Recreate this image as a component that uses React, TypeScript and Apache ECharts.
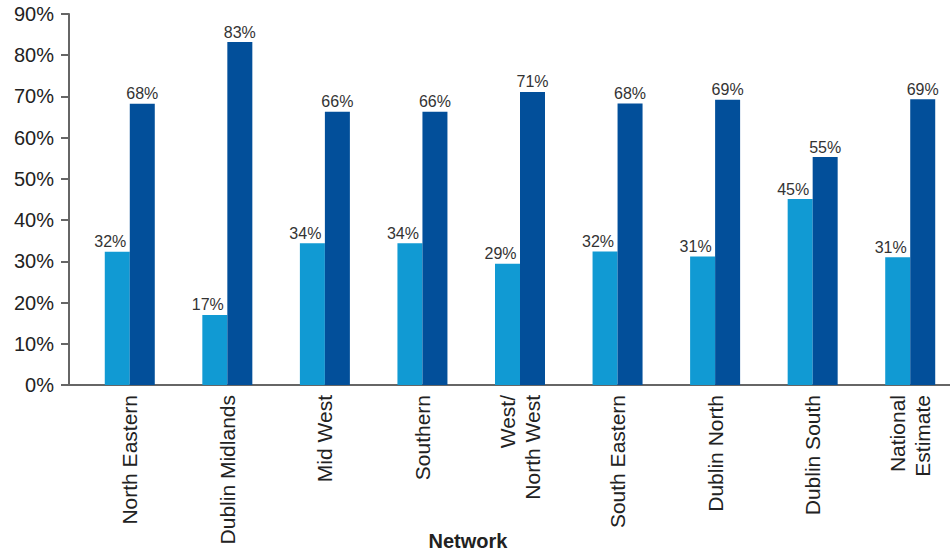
import React, { useEffect, useRef } from "react";
import * as echarts from "echarts";

const categories = [
  "North Eastern",
  "Dublin Midlands",
  "Mid West",
  "Southern",
  "West/\nNorth West",
  "South Eastern",
  "Dublin North",
  "Dublin South",
  "National\nEstimate",
];
const seriesLight = [32.3, 17.0, 34.4, 34.4, 29.4, 32.4, 31.2, 45.1, 31.0];
const seriesDark = [68.2, 83.2, 66.3, 66.3, 71.1, 68.3, 69.2, 55.3, 69.3];
const yTicks = [0, 10, 20, 30, 40, 50, 60, 70, 80, 90];
const xTitle = "Network";

const FONT = "Liberation Sans, Arial, sans-serif";

export default function App() {
  const ref = useRef<HTMLDivElement>(null);
  useEffect(() => {
    if (!ref.current) return;
    const chart = echarts.init(ref.current, undefined, { renderer: "svg" });
    const label = {
      show: true,
      position: "top",
      distance: 2,
      color: "#333",
      fontSize: 16,
      fontFamily: FONT,
      formatter: (p: any) => Math.round(p.value) + "%",
    };
    chart.setOption({
      animation: false,
      backgroundColor: "#fff",
      grid: { left: 81, right: 11, top: 14, bottom: 168, containLabel: false },
      xAxis: {
        type: "category",
        data: categories,
        axisLine: { show: true, lineStyle: { color: "#666", width: 2 } },
        axisTick: { show: false },
        axisLabel: {
          rotate: 90,
          color: "#222",
          fontSize: 21,
          fontFamily: FONT,
          lineHeight: 25,
          margin: 10,
          interval: 0,
        },
      },
      yAxis: {
        type: "value",
        min: yTicks[0],
        max: yTicks[yTicks.length - 1],
        interval: 10,
        offset: 12,
        splitLine: { show: false },
        axisLine: { show: true, lineStyle: { color: "#666", width: 2 } },
        axisTick: { show: true, length: 8, lineStyle: { color: "#666", width: 2 } },
        axisLabel: {
          color: "#222",
          fontSize: 20,
          fontFamily: FONT,
          margin: 15,
          formatter: (v: number) => v + "%",
        },
      },
      graphic: [
        {
          type: "line",
          shape: { x1: 68, y1: 385, x2: 82, y2: 385 },
          style: { stroke: "#666", lineWidth: 2 },
        },
        {
          type: "text",
          x: 468,
          y: 541,
          style: {
            text: xTitle,
            font: "bold 20px " + FONT,
            fill: "#222",
            textAlign: "center",
            textVerticalAlign: "middle",
          },
        },
      ],
      series: [
        {
          type: "bar",
          data: seriesLight,
          barWidth: 25,
          barGap: "0%",
          itemStyle: { color: "#119ad3" },
          label: { ...label, offset: [-7, 0] },
        },
        {
          type: "bar",
          data: seriesDark,
          barWidth: 25,
          barGap: "0%",
          itemStyle: { color: "#024f9a" },
          label,
        },
      ],
    });
    return () => chart.dispose();
  }, []);
  return (
    <div
      style={{
        position: "fixed",
        left: 0,
        top: 0,
        width: 950,
        height: 553,
        overflow: "hidden",
        background: "#fff",
      }}
    >
      <div ref={ref} style={{ width: 970, height: 553 }} />
    </div>
  );
}
